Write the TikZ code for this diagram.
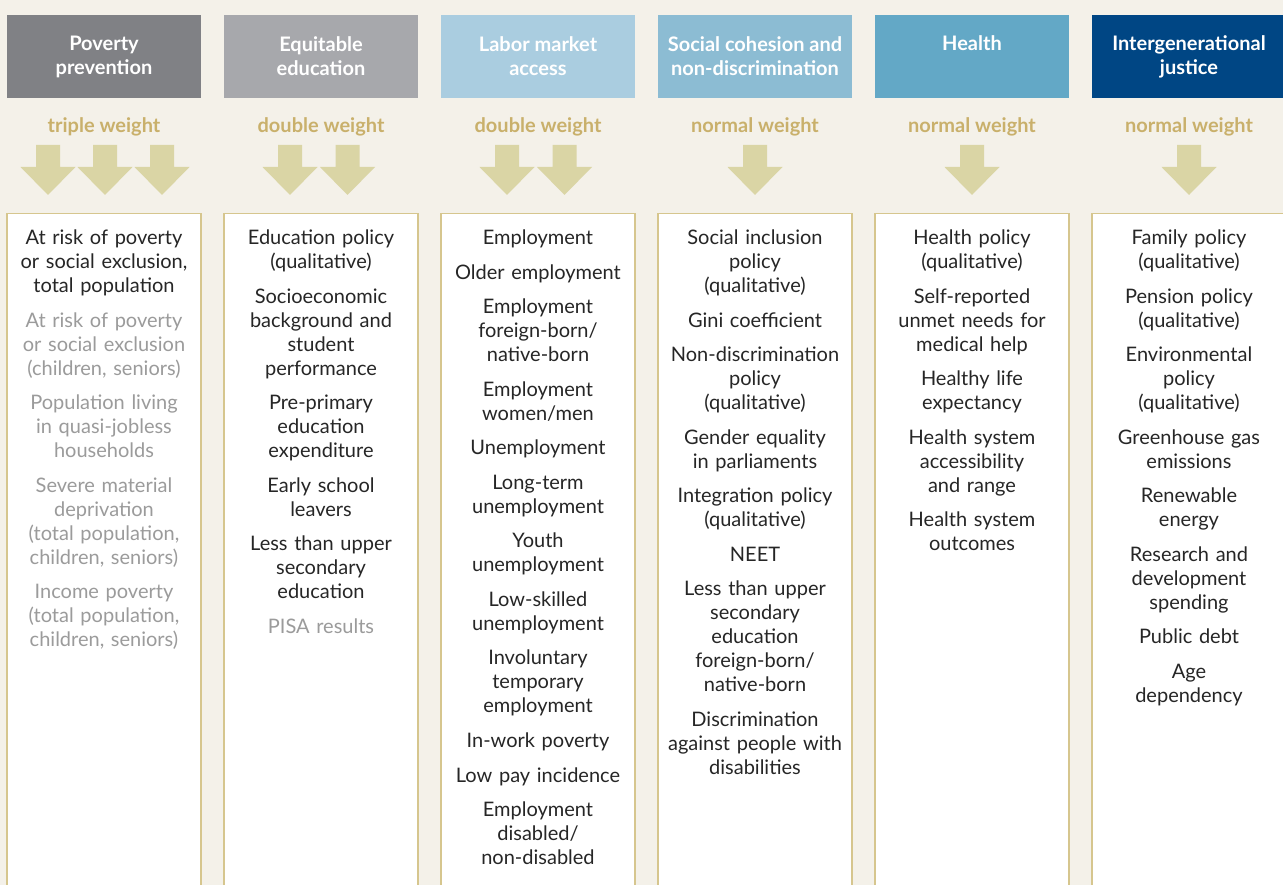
\documentclass[tikz,border=0pt]{standalone}
\usepackage{fontspec}
\setmainfont{Lato}
\usepackage{xcolor}
\usepackage{tikz}
\usetikzlibrary{
    positioning,
    calc
}

\definecolor{bgcream}{HTML}{F4F1E9}
\definecolor{povgray}{HTML}{808185}
\definecolor{edugray}{HTML}{A7A8AC}
\definecolor{laborblue}{HTML}{AACDE0}
\definecolor{cohesionblue}{HTML}{8CBCD3}
\definecolor{healthblue}{HTML}{63A8C6}
\definecolor{justiceblue}{HTML}{004684}
\definecolor{weightgold}{HTML}{C9B06B}
\definecolor{arrowtan}{HTML}{DAD5A5}
\definecolor{framegold}{HTML}{D6C68E}
\definecolor{itemdark}{HTML}{262626}
\definecolor{itemgray}{HTML}{9B9B9B}

\begin{document}
\begin{tikzpicture}[
        x=1pt, y=-1pt,
        node distance=10.55pt and 23pt,
        colhead/.style={
            rectangle,
            inner sep=0pt,
            outer sep=0pt,
            align=center,
            text=white,
            minimum width=194pt,
            minimum height=83pt,
            font=\fontsize{20}{24}\selectfont\bfseries
        },
        weightlabel/.style={
            anchor=base,
            inner sep=0pt,
            text=weightgold,
            font=\fontsize{20}{24}\selectfont\bfseries
        },
        listbox/.style={
            rectangle,
            anchor=north,
            draw=framegold,
            line width=1.5pt,
            fill=white,
            minimum width=194pt,
            minimum height=700pt
        },
        indicator/.style={
            align=center,
            text width=190pt,
            inner sep=0pt,
            outer sep=0pt,
            text=itemdark,
            font=\fontsize{20}{24}\selectfont,
            execute at begin node=\strut,
            execute at end node=\strut
        },
        minor/.style={
            text=itemgray
        },
        weightarrow/.pic={
            \fill[arrowtan] (-12,0) -- (12,0) -- (12,22) -- (27.5,22)
                -- (0,50) -- (-27.5,22) -- (-12,22) -- cycle;
        }
    ]

    \useasboundingbox (0,0) rectangle (1283,885);
    \clip (0,0) rectangle (1283,885);
    \fill[bgcream] (0,0) rectangle (1283,885);

    \coordinate (weightrow) at (0,132.5);
    \coordinate (arrowrow) at (0,145);
    \coordinate (listrow) at (0,213);

    % headers
    \node[colhead, fill=povgray] (hdA) at (104,56.5) {Poverty\\prevention};
    \node[colhead, fill=edugray, right=of hdA] (hdB) {Equitable\\education};
    \node[colhead, fill=laborblue, right=of hdB] (hdC) {Labor market\\access};
    \node[colhead, fill=cohesionblue, right=of hdC] (hdD) {Social cohesion and\\non-discrimination};
    \node[colhead, fill=healthblue, right=of hdD] (hdE) {Health\\\vphantom{prevention}};
    \node[colhead, fill=justiceblue, right=of hdE] (hdF) {Intergenerational\\justice};

    % weights
    \node[weightlabel] (wtA) at (hdA |- weightrow) {triple weight};
    \node[weightlabel] (wtB) at (hdB |- weightrow) {double weight};
    \node[weightlabel] (wtC) at (hdC |- weightrow) {double weight};
    \node[weightlabel] (wtD) at (hdD |- weightrow) {normal weight};
    \node[weightlabel] (wtE) at (hdE |- weightrow) {normal weight};
    \node[weightlabel] (wtF) at (hdF |- weightrow) {normal weight};

    \pic at ($(hdA |- arrowrow)+(-56,0)$) {weightarrow};
    \pic at ($(hdA |- arrowrow)+(1,0)$) {weightarrow};
    \pic at ($(hdA |- arrowrow)+(58,0)$) {weightarrow};
    \pic at ($(hdB |- arrowrow)+(-31,0)$) {weightarrow};
    \pic at ($(hdB |- arrowrow)+(26.5,0)$) {weightarrow};
    \pic at ($(hdC |- arrowrow)+(-31,0)$) {weightarrow};
    \pic at ($(hdC |- arrowrow)+(26.5,0)$) {weightarrow};
    \pic at (hdD |- arrowrow) {weightarrow};
    \pic at (hdE |- arrowrow) {weightarrow};
    \pic at (hdF |- arrowrow) {weightarrow};

    % indicator boxes
    \node[listbox] (boxA) at (hdA |- listrow) {};
    \node[listbox] (boxB) at (hdB |- listrow) {};
    \node[listbox] (boxC) at (hdC |- listrow) {};
    \node[listbox] (boxD) at (hdD |- listrow) {};
    \node[listbox] (boxE) at (hdE |- listrow) {};
    \node[listbox] (boxF) at (hdF |- listrow) {};

    % poverty prevention
    \node[indicator, below=14.7pt of boxA.north] (a1) {At risk of poverty\\or social exclusion,\\total population};
    \node[indicator, minor, below=of a1] (a2) {At risk of poverty\\or social exclusion\\(children, seniors)};
    \node[indicator, minor, below=of a2] (a3) {Population living\\in quasi-jobless\\households};
    \node[indicator, minor, below=of a3] (a4) {Severe material\\deprivation\\(total population,\\children, seniors)};
    \node[indicator, minor, below=of a4] (a5) {Income poverty\\(total population,\\children, seniors)};

    % equitable education
    \node[indicator, below=14.7pt of boxB.north] (b1) {Education policy\\(qualitative)};
    \node[indicator, below=of b1] (b2) {Socioeconomic\\background and\\student\\performance};
    \node[indicator, below=of b2] (b3) {Pre-primary\\education\\expenditure};
    \node[indicator, below=of b3] (b4) {Early school\\leavers};
    \node[indicator, below=of b4] (b5) {Less than upper\\secondary\\education};
    \node[indicator, minor, below=of b5] (b6) {PISA results};

    % labor market access
    \node[indicator, below=14.7pt of boxC.north] (c1) {Employment};
    \node[indicator, below=of c1] (c2) {Older employment};
    \node[indicator, below=of c2] (c3) {Employment\\foreign-born/\\native-born};
    \node[indicator, below=of c3] (c4) {Employment\\women/men};
    \node[indicator, below=of c4] (c5) {Unemployment};
    \node[indicator, below=of c5] (c6) {Long-term\\unemployment};
    \node[indicator, below=of c6] (c7) {Youth\\unemployment};
    \node[indicator, below=of c7] (c8) {Low-skilled\\unemployment};
    \node[indicator, below=of c8] (c9) {Involuntary\\temporary\\employment};
    \node[indicator, below=of c9] (c10) {In-work poverty};
    \node[indicator, below=of c10] (c11) {Low pay incidence};
    \node[indicator, below=of c11] (c12) {Employment\\disabled/\\non-disabled};

    % social cohesion
    \node[indicator, below=14.7pt of boxD.north] (d1) {Social inclusion\\policy\\(qualitative)};
    \node[indicator, below=of d1] (d2) {Gini coefficient};
    \node[indicator, below=of d2] (d3) {Non-discrimination\\policy\\(qualitative)};
    \node[indicator, below=of d3] (d4) {Gender equality\\in parliaments};
    \node[indicator, below=of d4] (d5) {Integration policy\\(qualitative)};
    \node[indicator, below=of d5] (d6) {NEET};
    \node[indicator, below=of d6] (d7) {Less than upper\\secondary\\education\\foreign-born/\\native-born};
    \node[indicator, below=of d7] (d8) {Discrimination\\against people with\\disabilities};

    % health
    \node[indicator, below=14.7pt of boxE.north] (e1) {Health policy\\(qualitative)};
    \node[indicator, below=of e1] (e2) {Self-reported\\unmet needs for\\medical help};
    \node[indicator, below=of e2] (e3) {Healthy life\\expectancy};
    \node[indicator, below=of e3] (e4) {Health system\\accessibility\\and range};
    \node[indicator, below=of e4] (e5) {Health system\\outcomes};

    % intergenerational justice
    \node[indicator, below=14.7pt of boxF.north] (f1) {Family policy\\(qualitative)};
    \node[indicator, below=of f1] (f2) {Pension policy\\(qualitative)};
    \node[indicator, below=of f2] (f3) {Environmental\\policy\\(qualitative)};
    \node[indicator, below=of f3] (f4) {Greenhouse gas\\emissions};
    \node[indicator, below=of f4] (f5) {Renewable\\energy};
    \node[indicator, below=of f5] (f6) {Research and\\development\\spending};
    \node[indicator, below=of f6] (f7) {Public debt};
    \node[indicator, below=of f7] (f8) {Age\\dependency};

    \end{tikzpicture}
\end{document}
